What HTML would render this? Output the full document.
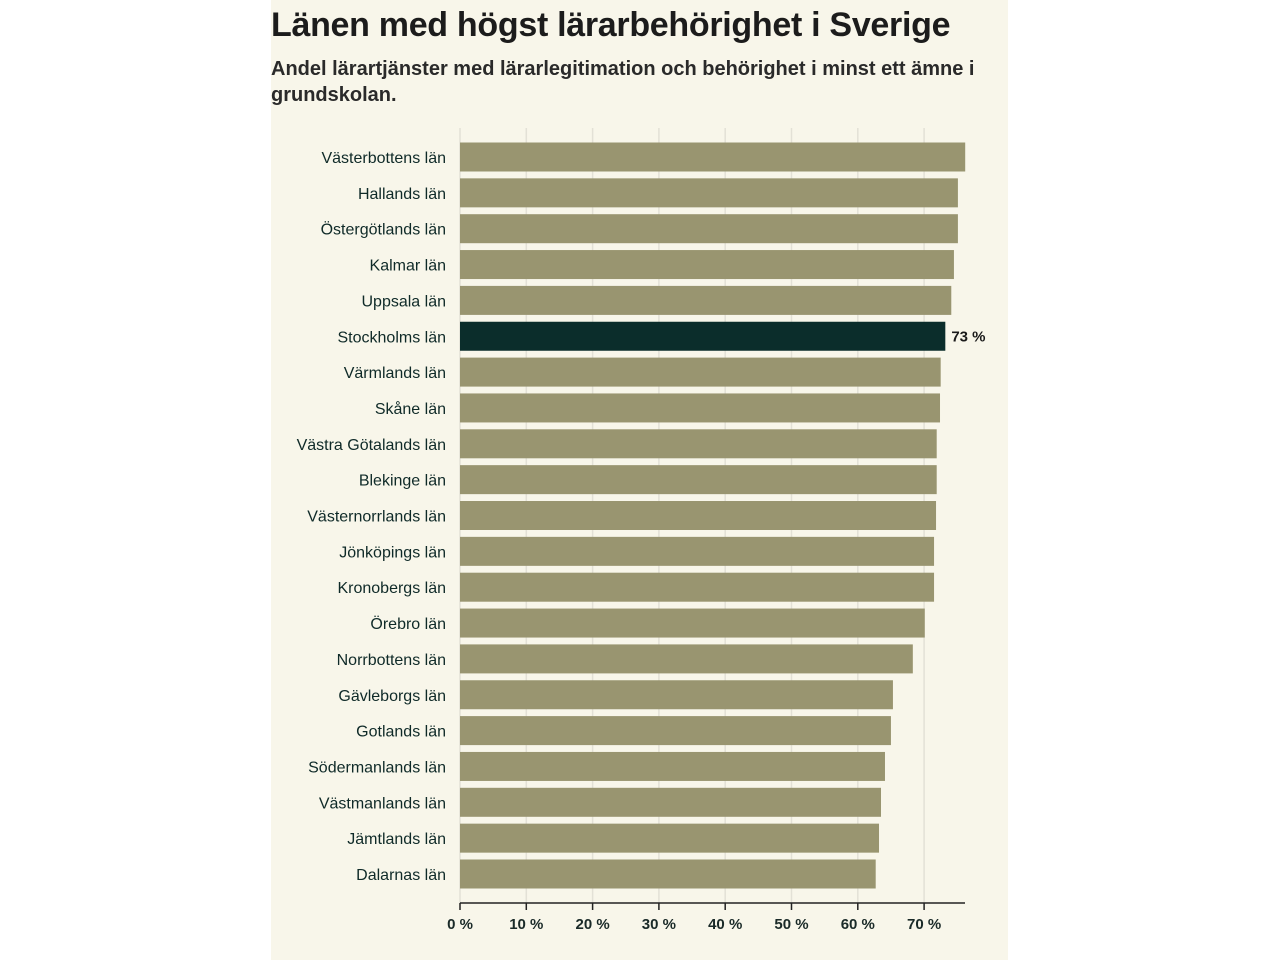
<!DOCTYPE html>
<html><head><meta charset="utf-8"><style>
body{margin:0;width:1280px;height:960px;background:#fff;font-family:"Liberation Sans",sans-serif;}
#panel{position:absolute;left:271px;top:0;width:737px;height:960px;background:#f8f6ea;}
h1{position:absolute;left:271px;top:6px;margin:0;font-size:34px;font-weight:bold;color:#1c1c1c;letter-spacing:-0.3px;}
#sub{position:absolute;left:271px;top:56px;width:735px;margin:0;font-size:20px;font-weight:bold;color:#2a2a2a;line-height:26px;}
svg{position:absolute;left:0;top:0;}
</style></head><body>
<div id="panel"></div>
<h1>Länen med högst lärarbehörighet i Sverige</h1>
<p id="sub">Andel lärartjänster med lärarlegitimation och behörighet i minst ett ämne i grundskolan.</p>
<svg id="chart" width="1280" height="960"></svg>
<script>
const categories=["Västerbottens län","Hallands län","Östergötlands län","Kalmar län","Uppsala län","Stockholms län","Värmlands län","Skåne län","Västra Götalands län","Blekinge län","Västernorrlands län","Jönköpings län","Kronobergs län","Örebro län","Norrbottens län","Gävleborgs län","Gotlands län","Södermanlands län","Västmanlands län","Jämtlands län","Dalarnas län"];
const values=[76.2,75.1,75.1,74.5,74.1,73.2,72.5,72.4,71.9,71.9,71.8,71.5,71.5,70.1,68.3,65.3,65.0,64.1,63.5,63.2,62.7];
const highlight="Stockholms län";
const ticks=[0,10,20,30,40,50,60,70];
const tickLabels=["0 %","10 %","20 %","30 %","40 %","50 %","60 %","70 %"];
const NS="http://www.w3.org/2000/svg";
const svg=document.getElementById('chart');
const x=v=>460+v*6.63;
const y=i=>157+i*35.85;
function mk(t,a){const e=document.createElementNS(NS,t);for(const k in a)e.setAttribute(k,a[k]);svg.appendChild(e);return e;}
ticks.forEach((t,i)=>{
  const g=mk('line',{x1:x(t),x2:x(t),y1:128,y2:903,stroke:'#e3e1d6','stroke-width':1.5});
  
  
  const tk=mk('line',{x1:x(t),x2:x(t),y1:903,y2:910,stroke:'#222','stroke-width':1.5});
  
  
  const l=mk('text',{x:x(t),y:929,'text-anchor':'middle','font-size':15,'font-weight':'bold',fill:'#1a2a28'});
  l.textContent=tickLabels[i];
  
  
});
categories.forEach((c,i)=>{
  const hl=c===highlight;
  const r=mk('rect',{x:x(0),y:y(i)-14.5,width:x(values[i])-x(0),height:29,fill:hl?'#0b2d2b':'#999570'});
  
  
  const t=mk('text',{x:446,y:y(i)+6,'text-anchor':'end','font-size':16,fill:'#0f2a28'});
  t.textContent=c;
  
  
  if(hl){
    const v=mk('text',{x:x(values[i])+6,y:y(i)+5,'font-size':15,'font-weight':'bold',fill:'#1a1a1a'});
    v.textContent=Math.round(values[i])+' %';
    
    
  }
});
const ax=mk('line',{x1:x(0),x2:965,y1:903,y2:903,stroke:'#222','stroke-width':1.5});


</script>
</body></html>
